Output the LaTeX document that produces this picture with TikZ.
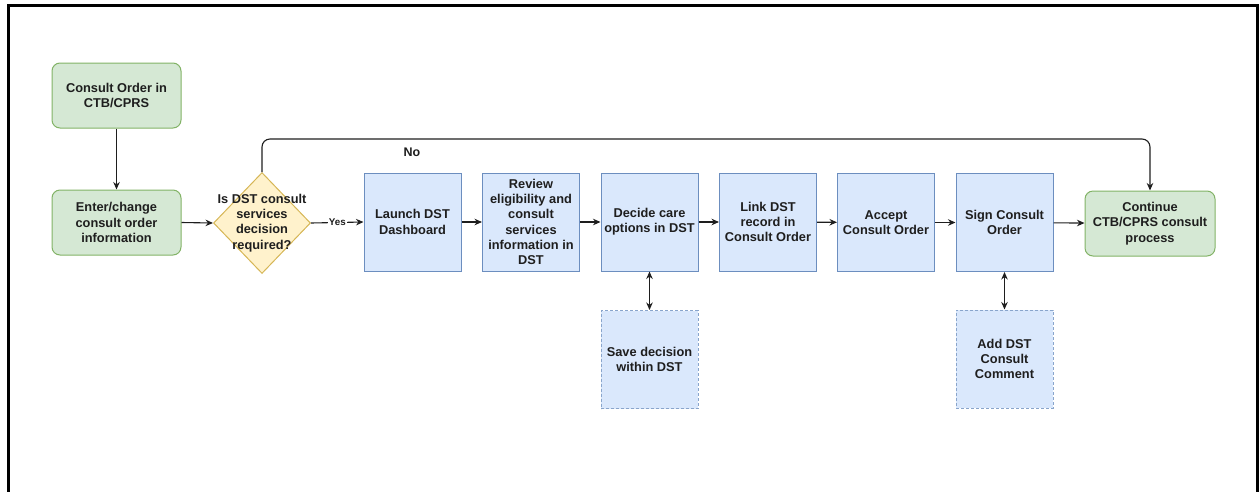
\documentclass[tikz,border=0pt]{standalone}
\usepackage{fontspec}
\setmainfont{Liberation Sans}
\usetikzlibrary{arrows.meta,shapes.geometric}
\definecolor{gfill}{HTML}{D5E8D4}
\definecolor{gline}{HTML}{82B366}
\definecolor{bfill}{HTML}{DAE8FC}
\definecolor{bline}{HTML}{6C8EBF}
\definecolor{yfill}{HTML}{FFF2CC}
\definecolor{yline}{HTML}{D6B656}
\definecolor{ink}{HTML}{1E1E1E}
\tikzset{
  txt/.style={font=\fontsize{12.8}{15.2}\selectfont\bfseries, text=ink, align=center},
  gbox/.style={txt, draw=gline, fill=gfill, rounded corners=8pt, line width=1pt,
    minimum width=129pt, minimum height=65pt, inner sep=0pt},
  bbox/.style={txt, draw=bline, fill=bfill, line width=1pt,
    minimum width=97pt, minimum height=98pt, inner sep=0pt},
  dbox/.style={bbox, dashed, dash pattern=on 3pt off 2pt, draw=bline!80},
  dia/.style={diamond, draw=yline, fill=yfill, line width=1pt,
    minimum width=97pt, minimum height=101pt, inner sep=0pt},
  conn/.style={draw=ink, line width=1.1pt, -{Stealth[length=7.5pt,width=6.5pt]}},
  dconn/.style={draw=ink, line width=1.1pt, {Stealth[length=7.5pt,width=6.5pt]}-{Stealth[length=7.5pt,width=6.5pt]}},
}
\begin{document}
\begin{tikzpicture}[x=1pt,y=-1pt]
\useasboundingbox (0,0) rectangle (1259,491);
\draw[line width=2.3pt] (8.5,492) -- (8.5,5.5) -- (1257.5,5.5) -- (1257.5,492);

\node[gbox] (co) at (116.5,95.5) {Consult Order in\\CTB/CPRS};
\node[gbox] (en) at (116.5,222.5) {Enter/change\\consult order\\information};
\node[dia] (dm) at (262,223) {};
\node[txt] (dt) at (262,223) {Is DST consult\\services\\decision\\required?};
\node[bbox] (la) at (412.5,222) {Launch DST\\Dashboard};
\node[bbox] (rv) at (531,222) {Review\\eligibility and\\consult\\services\\information in\\DST};
\node[bbox] (dc) at (649.5,222) {Decide care\\options in DST};
\node[bbox] (lk) at (768,222) {Link DST\\record in\\Consult Order};
\node[bbox] (ac) at (886,222.5) {Accept\\Consult Order};
\node[bbox] (sg) at (1004.5,222.5) {Sign Consult\\Order};
\node[gbox, minimum width=130pt] (ct) at (1150,223.5) {Continue\\CTB/CPRS consult\\process};
\node[dbox] (sv) at (649.5,359.5) {Save decision\\within DST};
\node[dbox] (ad) at (1004.5,359) {Add DST\\Consult\\Comment};

\draw[conn] (co) -- (en);
\draw[conn] (en.east) -- (dm.west);
\draw[conn] (dm.east) -- node[fill=white, inner sep=1pt, font=\fontsize{9.8}{11}\selectfont\bfseries, text=ink] (yes) {Yes} (la.west);
\draw[conn] (la) -- (rv);
\draw[conn] (rv) -- (dc);
\draw[conn] (dc) -- (lk);
\draw[conn] (lk) -- (ac);
\draw[conn] (ac) -- (sg);
\draw[conn] (sg) -- (ct);
\draw[conn, rounded corners=8pt] (dm.north) -- (dm.north |- 0,139) -- (ct.north |- 0,139) -- (ct.north);
\node[txt, font=\fontsize{12.5}{14}\selectfont\bfseries] (no) at (412,152) {No};
\draw[dconn] (dc.south) -- (sv.north);
\draw[dconn] (sg.south) -- (ad.north);
\end{tikzpicture}
\end{document}
